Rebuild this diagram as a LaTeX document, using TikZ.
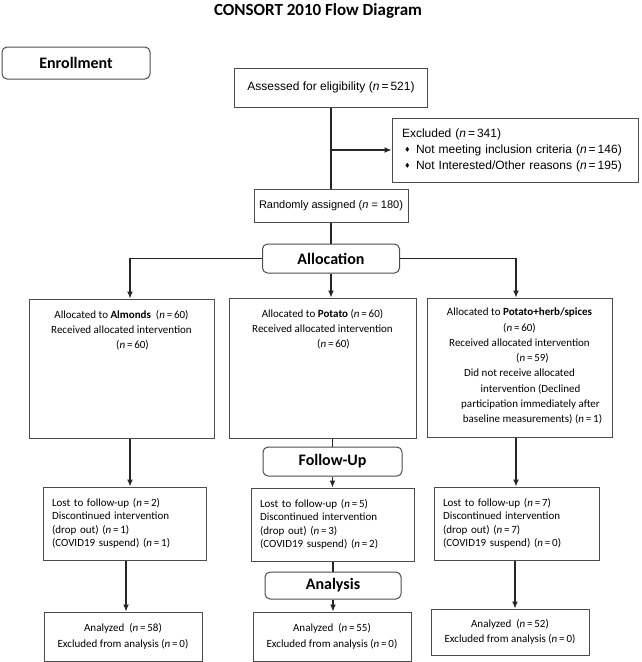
\documentclass[tikz,border=0pt]{standalone}
\usepackage{fontspec}
\usepackage{amssymb}
\setmainfont{Carlito}
\newfontfamily\arialfont{Liberation Sans}
\usetikzlibrary{arrows.meta,calc}
\newcommand{\exclitem}{\makebox[14pt][l]{\hspace{3pt}\raisebox{1.5pt}{$\scriptscriptstyle\blacklozenge$}}}
\newcommand{\nn}[1]{(\textit{n}\,=\,#1)}
\newcommand{\armfont}{\fontsize{11}{15.3}\selectfont}
\tikzset{
	flowbox/.style={draw=black!70, line width=1pt, rectangle, inner sep=0pt, align=center},
	stagebox/.style={flowbox, rounded corners=5pt, font=\fontsize{16}{18}\selectfont\bfseries},
	armtext/.style={font=\armfont},
	losttext/.style={align=left, font=\fontsize{11}{13.3}\selectfont},
	link/.style={line width=1.2pt, draw=black!85},
	arr/.style={link, -{Latex[length=7pt,width=6pt]}}
}

\begin{document}
\begin{tikzpicture}[x=1pt, y=-1pt]
		%%%%% START %%%%%
		\useasboundingbox (0,0) rectangle (642,662);
		
		\node[font=\fontsize{17}{19}\selectfont\bfseries] (title) at (318,11) {CONSORT 2010 Flow Diagram};
		
		\node[stagebox, minimum width=148pt, minimum height=32pt] (enrol) at (76,63) {Enrollment};
		\node[flowbox, minimum width=193pt, minimum height=39pt, font=\arialfont\fontsize{12}{14}\selectfont] (assess) at (331,87.5) {Assessed for eligibility \nn{521}};
		\node[flowbox, minimum width=246pt, minimum height=64pt, text width=226pt, align=left, font=\arialfont\fontsize{12}{16}\selectfont] (excl) at (515,150) {Excluded \nn{341}\\ \exclitem Not meeting inclusion criteria \nn{146}\\ \exclitem Not Interested/Other reasons \nn{195}};
		\node[flowbox, minimum width=154pt, minimum height=33pt, font=\arialfont\fontsize{11}{13}\selectfont] (rand) at (331,205.5) {Randomly assigned (\textit{n} = 180)};
		
		\draw[link] (assess.south) -- (rand.north);
		\draw[arr] (assess.south |- excl.west) -- (excl.west);
		
		\node[stagebox, minimum width=137pt, minimum height=29pt] (alloc) at (331,258.5) {Allocation};
		\draw[link] (rand.south) -- (alloc.north);
		
		% allocated arms
		\node[flowbox, minimum width=185pt, minimum height=139pt] (armA) at (121.5,368.5) {\parbox[c][139pt][t]{180pt}{\centering\armfont\vspace*{11pt}Allocated to \textbf{Almonds}~ \nn{60}\\Received allocated intervention\\\hspace*{22pt}\nn{60}}};
		\node[flowbox, minimum width=187pt, minimum height=140pt] (armB) at (322.5,368) {\parbox[c][140pt][t]{182pt}{\centering\armfont\vspace*{11pt}Allocated to \textbf{Potato} \nn{60}\\Received allocated intervention\\\hspace*{22pt}\nn{60}}};
		\node[flowbox, minimum width=185pt, minimum height=139pt] (armC) at (519.5,367.5) {\parbox[c][139pt][t]{180pt}{\centering\armfont\vspace*{10pt}Allocated to \textbf{Potato+herb/spices}\\\nn{60}\\Received allocated intervention\\\hspace*{26pt}\nn{59}\\Did not receive allocated\\\hspace*{22pt}intervention (Declined\\\hspace*{22pt}participation immediately after\\\hspace*{26pt}baseline measurements) \nn{1}}};
		
		\draw[arr] (alloc.west) -| ([xshift=8.5pt]armA.north);
		\draw[arr] (alloc.south) -- (alloc.south |- armB.north);
		\draw[arr] (alloc.east) -| ([xshift=-3.5pt]armC.north);
		
		% follow-up
		\node[stagebox, minimum width=139pt, minimum height=29pt] (follow) at (332.5,461.5) {Follow-Up};
		\node[flowbox, losttext, minimum width=163pt, minimum height=73pt, text width=145pt] (lostA) at (124.5,523.5) {Lost to follow-up \nn{2}\\Discontinued intervention\\(drop out) \nn{1}\\(COVID19 suspend) \nn{1}};
		\node[flowbox, losttext, minimum width=163pt, minimum height=73pt, text width=145pt] (lostB) at (332.5,524.5) {Lost to follow-up \nn{5}\\Discontinued intervention\\(drop out) \nn{3}\\(COVID19 suspend) \nn{2}};
		\node[flowbox, losttext, minimum width=165pt, minimum height=73pt, text width=147pt] (lostC) at (516.5,523.5) {Lost to follow-up \nn{7}\\Discontinued intervention\\(drop out) \nn{7}\\(COVID19 suspend) \nn{0}};
		
		\draw[arr] ([xshift=8.5pt]armA.south) -- ([xshift=8.5pt]armA.south |- lostA.north);
		\draw[link] (follow.north |- armB.south) -- (follow.north);
		\draw[arr] (follow.south) -- (follow.south |- lostB.north);
		\draw[arr] ([xshift=-3.5pt]armC.south) -- ([xshift=-3.5pt]armC.south |- lostC.north);
		
		% analysis
		\node[stagebox, minimum width=136pt, minimum height=27pt] (analysis) at (333,585.5) {Analysis};
		\node[flowbox, armtext, minimum width=158pt, minimum height=49pt] (anaA) at (123,636.5) {Analyzed~ \nn{58}\\Excluded from analysis \nn{0}};
		\node[flowbox, armtext, minimum width=158pt, minimum height=49pt] (anaB) at (332,636.5) {Analyzed~ \nn{55}\\Excluded from analysis \nn{0}};
		\node[flowbox, armtext, minimum width=158pt, minimum height=46pt] (anaC) at (510,632) {Analyzed~ \nn{52}\\Excluded from analysis \nn{0}};
		
		\draw[arr] ([xshift=1.5pt]lostA.south) -- ([xshift=1.5pt]lostA.south |- anaA.north);
		\draw[link] (analysis.north |- lostB.south) -- (analysis.north);
		\draw[arr] (analysis.south) -- (analysis.south |- anaB.north);
		\draw[arr] ([xshift=-1.5pt]lostC.south) -- ([xshift=-1.5pt]lostC.south |- anaC.north);
		
		%%%%% END %%%%%
\end{tikzpicture}
\end{document}
